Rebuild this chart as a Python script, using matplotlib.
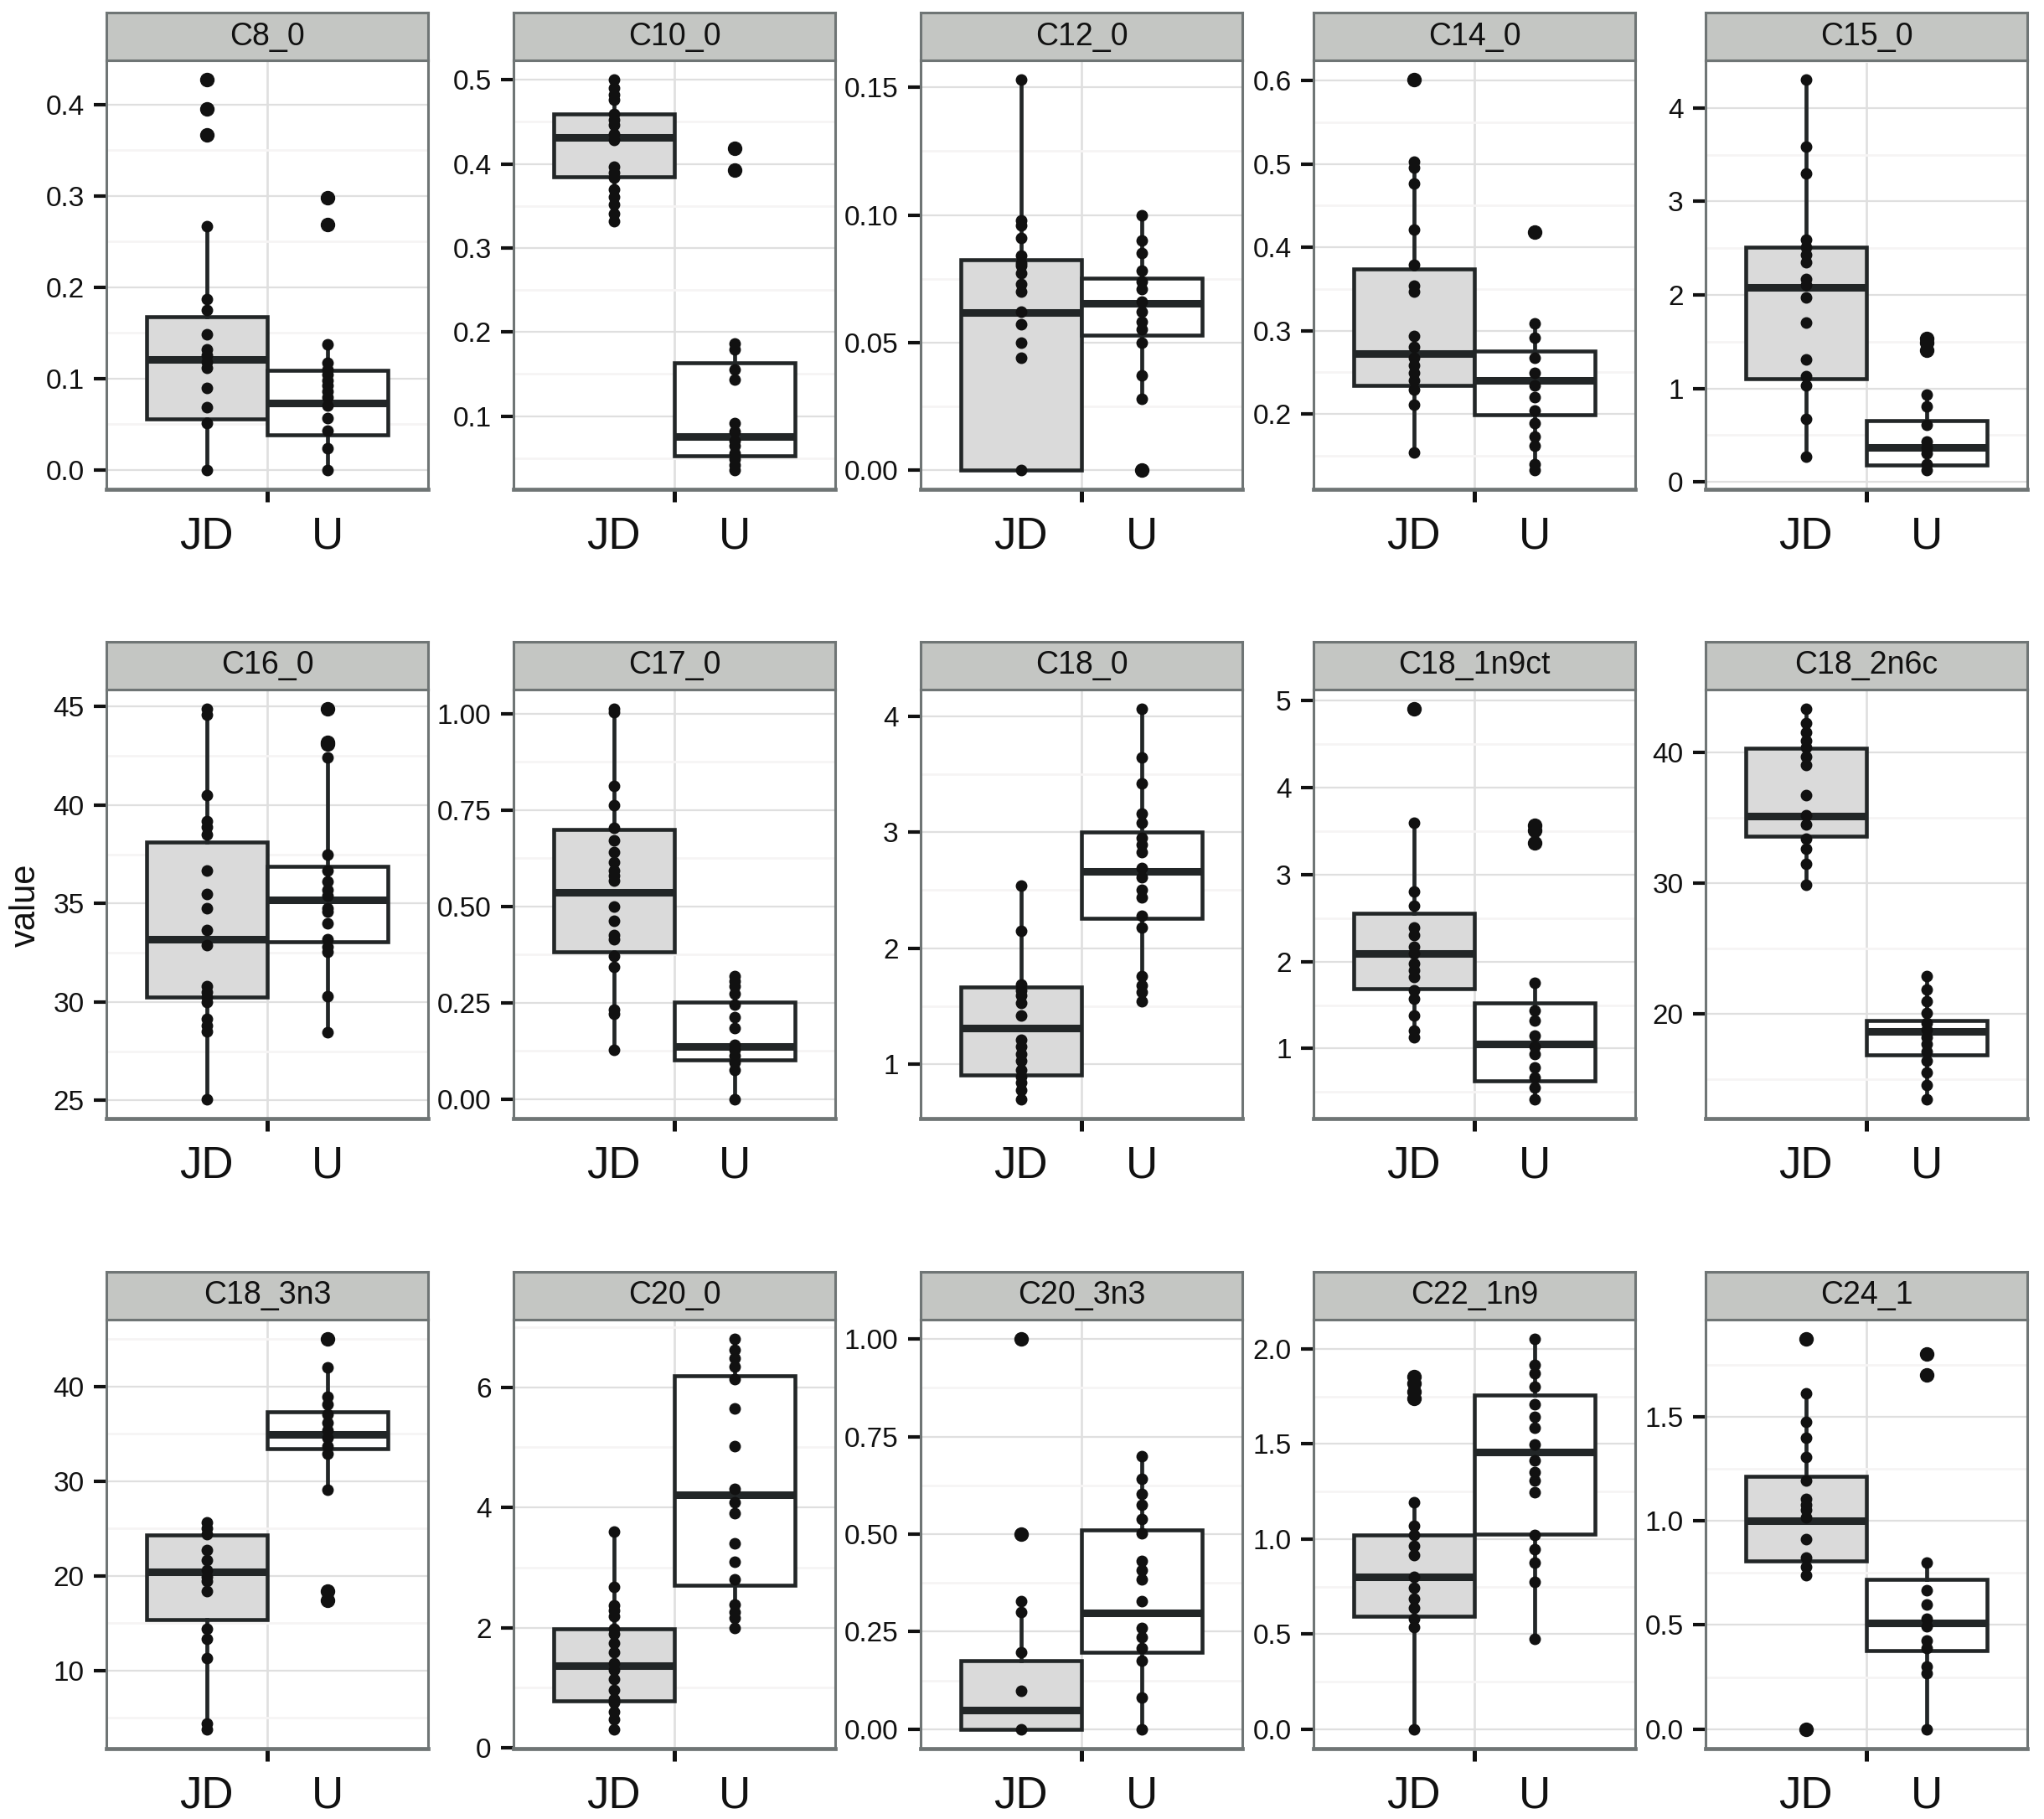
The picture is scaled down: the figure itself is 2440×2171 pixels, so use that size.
import matplotlib
matplotlib.use('Agg')
import matplotlib.pyplot as plt
from matplotlib.ticker import MultipleLocator, FormatStrFormatter

plt.rcParams['font.family'] = ['Liberation Sans', 'DejaVu Sans']

# Facet names, in reading order
facets = ['C8_0', 'C10_0', 'C12_0', 'C14_0', 'C15_0',
          'C16_0', 'C17_0', 'C18_0', 'C18_1n9ct', 'C18_2n6c',
          'C18_3n3', 'C20_0', 'C20_3n3', 'C22_1n9', 'C24_1']
groups = ['JD', 'U']

# Points per facet and group
c8_0_jd = [0.427, 0.395, 0.367, 0.267, 0.187, 0.175, 0.148, 0.132, 0.125, 0.118, 0.112, 0.090, 0.069, 0.051, 0.0]
c8_0_u = [0.298, 0.269, 0.137, 0.117, 0.110, 0.104, 0.098, 0.092, 0.086, 0.080, 0.070, 0.057, 0.043, 0.024, 0.0]
c10_0_jd = [0.500, 0.490, 0.482, 0.476, 0.459, 0.452, 0.446, 0.435, 0.428, 0.397, 0.390, 0.384, 0.370, 0.361, 0.352, 0.341, 0.332]
c10_0_u = [0.419, 0.393, 0.186, 0.179, 0.155, 0.143, 0.092, 0.082, 0.071, 0.065, 0.056, 0.049, 0.042, 0.036]
c12_0_jd = [0.153, 0.098, 0.096, 0.091, 0.084, 0.081, 0.080, 0.077, 0.073, 0.070, 0.062, 0.057, 0.050, 0.044, 0.0]
c12_0_u = [0.100, 0.090, 0.085, 0.078, 0.074, 0.071, 0.066, 0.062, 0.058, 0.055, 0.050, 0.037, 0.028, 0.0]
c14_0_jd = [0.601, 0.503, 0.496, 0.477, 0.421, 0.379, 0.354, 0.347, 0.294, 0.281, 0.267, 0.258, 0.249, 0.240, 0.229, 0.211, 0.154]
c14_0_u = [0.418, 0.309, 0.292, 0.267, 0.249, 0.234, 0.220, 0.204, 0.189, 0.173, 0.162, 0.140, 0.133]
c15_0_jd = [4.30, 3.59, 3.30, 2.59, 2.51, 2.43, 2.35, 2.17, 2.11, 1.97, 1.70, 1.31, 1.13, 1.03, 0.67, 0.27]
c15_0_u = [1.53, 1.49, 1.41, 0.93, 0.81, 0.61, 0.43, 0.37, 0.31, 0.19, 0.13]
c16_0_jd = [44.87, 44.6, 40.5, 39.2, 38.9, 38.5, 36.66, 35.5, 34.76, 33.66, 32.9, 30.8, 30.5, 30.26, 29.98, 29.15, 28.8, 28.5, 25.07]
c16_0_u = [44.87, 43.2, 43.1, 42.4, 37.5, 36.66, 36.1, 35.7, 35.4, 34.76, 34.6, 34.0, 33.2, 32.8, 32.55, 30.3, 28.45]
c17_0_jd = [1.012, 1.003, 0.812, 0.762, 0.704, 0.671, 0.640, 0.614, 0.593, 0.579, 0.567, 0.499, 0.463, 0.426, 0.415, 0.372, 0.344, 0.231, 0.222, 0.127]
c17_0_u = [0.320, 0.306, 0.292, 0.273, 0.245, 0.212, 0.184, 0.141, 0.127, 0.113, 0.094, 0.075, 0.0]
c18_0_jd = [2.54, 2.15, 1.69, 1.64, 1.59, 1.53, 1.42, 1.21, 1.15, 1.09, 1.03, 0.95, 0.89, 0.84, 0.78, 0.70]
c18_0_u = [4.06, 3.64, 3.42, 3.16, 3.08, 2.95, 2.89, 2.83, 2.69, 2.61, 2.50, 2.44, 2.28, 2.18, 1.76, 1.68, 1.62, 1.54]
c18_1_jd = [4.90, 3.59, 2.80, 2.64, 2.39, 2.30, 2.17, 2.09, 1.98, 1.90, 1.82, 1.67, 1.57, 1.38, 1.21, 1.13]
c18_1_u = [3.56, 3.51, 3.36, 1.76, 1.44, 1.32, 1.15, 1.02, 0.94, 0.78, 0.67, 0.55, 0.42]
c18_2_jd = [43.3, 42.2, 41.5, 40.9, 40.4, 39.7, 39.0, 36.7, 35.2, 34.5, 33.4, 32.6, 31.5, 29.9]
c18_2_u = [22.9, 21.9, 21.0, 20.1, 19.3, 18.8, 18.2, 17.7, 17.1, 16.4, 15.5, 14.6, 13.5]
c18_3_jd = [25.6, 25.0, 24.4, 22.7, 21.7, 20.6, 19.9, 19.4, 18.4, 14.4, 13.3, 11.3, 4.4, 3.8]
c18_3_u = [45.0, 42.0, 38.9, 38.1, 37.1, 36.2, 35.4, 34.6, 33.7, 32.9, 29.1, 18.4, 17.4]
c20_0_jd = [3.60, 2.67, 2.37, 2.28, 2.19, 1.98, 1.89, 1.74, 1.59, 1.41, 1.29, 1.14, 0.96, 0.81, 0.75, 0.60, 0.48, 0.31]
c20_0_u = [6.80, 6.62, 6.49, 6.34, 6.14, 5.64, 5.02, 4.31, 4.09, 3.91, 3.40, 3.10, 2.80, 2.38, 2.26, 2.16, 1.99]
c20_3_jd = [1.0, 0.50, 0.329, 0.301, 0.198, 0.098, 0.0]
c20_3_u = [0.700, 0.641, 0.604, 0.576, 0.539, 0.502, 0.432, 0.408, 0.385, 0.329, 0.259, 0.236, 0.208, 0.175, 0.082, 0.0]
c22_1_jd = [1.857, 1.819, 1.776, 1.738, 1.193, 1.069, 1.021, 0.964, 0.916, 0.802, 0.745, 0.688, 0.640, 0.582, 0.535, 0.0]
c22_1_u = [2.052, 1.918, 1.871, 1.804, 1.708, 1.641, 1.584, 1.498, 1.412, 1.354, 1.307, 1.246, 1.021, 0.945, 0.878, 0.773, 0.477]
c24_1_jd = [1.872, 1.610, 1.474, 1.400, 1.305, 1.195, 1.105, 1.078, 1.052, 1.017, 0.913, 0.825, 0.781, 0.738, 0.0]
c24_1_u = [1.802, 1.701, 0.799, 0.668, 0.598, 0.528, 0.494, 0.424, 0.389, 0.302, 0.267, 0.0]

# Box stats per facet: [whisker low, q1, median, q3, whisker high]
box_jd = [
    [0.0, 0.056, 0.121, 0.168, 0.267],
    [0.332, 0.385, 0.431, 0.459, 0.500],
    [0.0, 0.0, 0.0616, 0.0825, 0.153],
    [0.154, 0.234, 0.272, 0.374, 0.503],
    [0.27, 1.10, 2.08, 2.51, 4.30],
    [25.07, 30.26, 33.2, 38.1, 44.87],
    [0.127, 0.381, 0.537, 0.699, 1.012],
    [0.70, 0.91, 1.31, 1.665, 2.54],
    [1.13, 1.69, 2.09, 2.55, 3.59],
    [29.9, 33.6, 35.1, 40.3, 43.3],
    [3.8, 15.4, 20.4, 24.3, 25.6],
    [0.31, 0.78, 1.36, 1.98, 3.60],
    [0.0, 0.0, 0.049, 0.175, 0.329],
    [0.0, 0.592, 0.802, 1.021, 1.193],
    [0.738, 0.808, 1.0, 1.212, 1.610],
]
box_u = [
    [0.0, 0.038, 0.073, 0.109, 0.137],
    [0.036, 0.053, 0.076, 0.163, 0.186],
    [0.028, 0.0528, 0.0652, 0.0752, 0.100],
    [0.133, 0.199, 0.240, 0.275, 0.309],
    [0.13, 0.18, 0.37, 0.66, 0.93],
    [28.45, 33.05, 35.17, 36.9, 42.4],
    [0.0, 0.101, 0.136, 0.252, 0.320],
    [1.54, 2.26, 2.66, 3.00, 4.06],
    [0.42, 0.63, 1.05, 1.52, 1.76],
    [13.5, 16.9, 18.7, 19.5, 22.9],
    [29.1, 33.4, 34.9, 37.3, 42.0],
    [1.99, 2.71, 4.21, 6.19, 6.80],
    [0.0, 0.198, 0.297, 0.511, 0.700],
    [0.477, 1.027, 1.456, 1.756, 2.052],
    [0.0, 0.377, 0.511, 0.720, 0.799],
]

# y tick step and decimals per facet
y_step = [0.1, 0.1, 0.05, 0.1, 1, 5, 0.25, 1, 1, 10, 10, 2, 0.25, 0.5, 0.5]
y_dec = [1, 1, 2, 1, 0, 0, 2, 0, 0, 0, 0, 0, 2, 1, 1]

points_jd = [c8_0_jd, c10_0_jd, c12_0_jd, c14_0_jd, c15_0_jd, c16_0_jd, c17_0_jd, c18_0_jd,
             c18_1_jd, c18_2_jd, c18_3_jd, c20_0_jd, c20_3_jd, c22_1_jd, c24_1_jd]
points_u = [c8_0_u, c10_0_u, c12_0_u, c14_0_u, c15_0_u, c16_0_u, c17_0_u, c18_0_u,
            c18_1_u, c18_2_u, c18_3_u, c20_0_u, c20_3_u, c22_1_u, c24_1_u]

# Layout in pixels
W, H = 2440, 2171
col_left = [127, 613, 1099, 1568, 2036]
row_top = [72, 823, 1575]
panel_w, panel_h, strip_h = 384, 512, 57

DARK = '#222627'
BORDER = '#6f7575'
fills = ['#dadada', 'white']


def make_stats(vals, box):
    lo, q1, med, q3, hi = box
    fliers = [v for v in vals if v < lo or v > hi]
    return {'whislo': lo, 'q1': q1, 'med': med, 'q3': q3, 'whishi': hi, 'fliers': fliers}


fig = plt.figure(figsize=(W / 100, H / 100), dpi=100)

for i, name in enumerate(facets):
    r, c = divmod(i, 5)
    left = col_left[c] / W
    ax = fig.add_axes([left, 1 - (row_top[r] + panel_h) / H, panel_w / W, panel_h / H])
    sax = fig.add_axes([left, 1 - row_top[r] / H, panel_w / W, strip_h / H])

    # boxes
    stats = [make_stats(points_jd[i], box_jd[i]), make_stats(points_u[i], box_u[i])]
    bp = ax.bxp(stats, positions=[1, 2], widths=1.0, patch_artist=True, showcaps=False,
                boxprops=dict(edgecolor=DARK, linewidth=3.3),
                whiskerprops=dict(color=DARK, linewidth=3.4),
                medianprops=dict(color=DARK, linewidth=6.5, solid_capstyle='butt'),
                flierprops=dict(marker='o', markersize=11.5, markerfacecolor='#111111',
                                markeredgecolor='#111111', linestyle='none'),
                manage_ticks=False, zorder=2)
    for patch, fc in zip(bp['boxes'], fills):
        patch.set_facecolor(fc)

    # raw points on top
    ax.plot([1] * len(points_jd[i]), points_jd[i], 'o', color='#111111', markersize=9, zorder=3)
    ax.plot([2] * len(points_u[i]), points_u[i], 'o', color='#111111', markersize=9, zorder=3)

    ax.set_xlim(0.17, 2.83)
    ax.margins(y=0.05)

    ax.yaxis.set_major_locator(MultipleLocator(y_step[i]))
    ax.yaxis.set_minor_locator(MultipleLocator(y_step[i] / 2))
    ax.yaxis.set_major_formatter(FormatStrFormatter('%.' + str(y_dec[i]) + 'f'))
    ax.set_xticks([1.5])
    ax.set_xticklabels([''])
    ax.set_xticks([1, 2], minor=True)
    ax.set_xticklabels(groups, minor=True)

    ax.tick_params(axis='y', which='major', length=11, width=3, color='#111111',
                   labelsize=24, labelcolor='#111111', pad=8)
    ax.tick_params(axis='y', which='minor', length=0)
    ax.tick_params(axis='x', which='major', length=11, width=3.6, color='#111111')
    ax.tick_params(axis='x', which='minor', length=0, labelsize=38, labelcolor='#111111', pad=23)

    ax.set_axisbelow(True)
    ax.grid(which='major', axis='y', color='#dfdfdf', linewidth=1.6)
    ax.grid(which='minor', axis='y', color='#f6f4f4', linewidth=2.0)
    ax.grid(which='major', axis='x', color='#dfdfdf', linewidth=1.9)
    for side, sp in ax.spines.items():
        sp.set_color(BORDER)
        sp.set_linewidth(3.4 if side == 'bottom' else 2.2)

    # facet strip
    sax.set_facecolor('#c4c6c3')
    sax.set_xticks([])
    sax.set_yticks([])
    for sp in sax.spines.values():
        sp.set_color(BORDER)
        sp.set_linewidth(2.2)
    sax.text(0.5, 0.5, name, transform=sax.transAxes, ha='center', va='center',
             fontsize=27, color='#111111')

fig.text(31 / W, 1 - 1080 / H, 'value', rotation=90, ha='center', va='center',
         fontsize=30, color='#111111')

fig.savefig('out.png', dpi=100)
